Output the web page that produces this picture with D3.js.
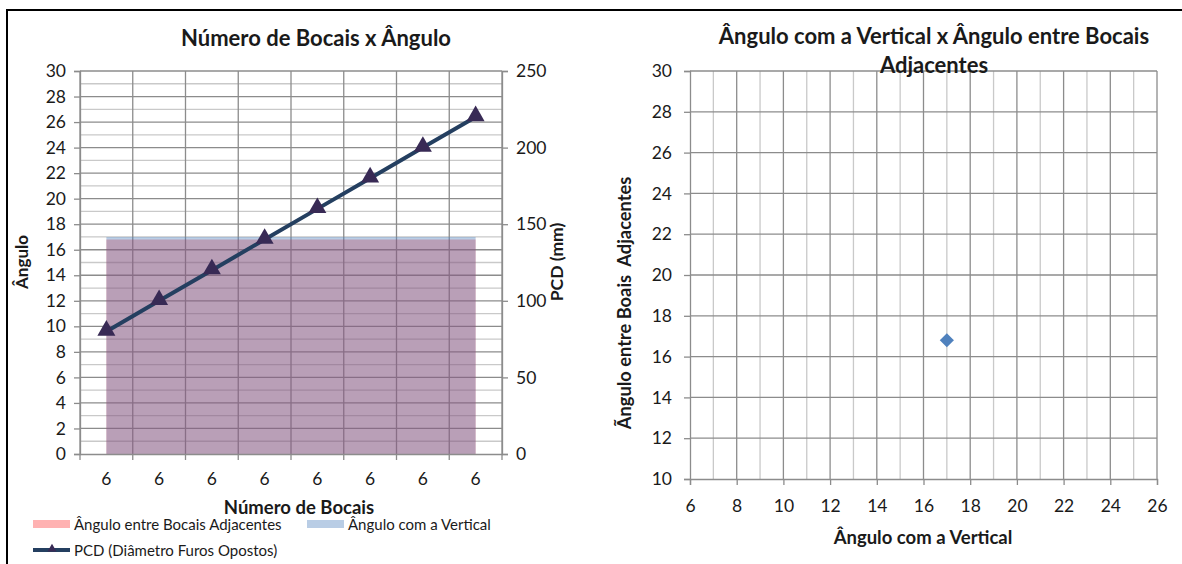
<!DOCTYPE html>
<html>
<head>
<meta charset="utf-8">
<script src="https://cdn.jsdelivr.net/npm/d3@7/dist/d3.min.js"></script>
<style>
  html, body { margin: 0; padding: 0; background: #fff; }
  svg { display: block; font-family: Lato, "Open Sans", sans-serif; }
  text { fill: #1a1a1a; }
</style>
</head>
<body>
<svg id="chart" width="1182" height="564"></svg>
<script>
// ---- data ----
const categories = ["6", "6", "6", "6", "6", "6", "6", "6"];
const adjacentAngle = [16.8, 16.8, 16.8, 16.8, 16.8, 16.8, 16.8, 16.8];
const verticalAngle = [17, 17, 17, 17, 17, 17, 17, 17];
const pcd = [80, 100, 120, 140, 160, 180, 200, 220];
const angleTicks = d3.range(0, 31, 2);
const pcdTicks = [0, 50, 100, 150, 200, 250];

const scatterX = [17];
const scatterY = [16.8];
const scatterXTicks = d3.range(6, 27, 2);
const scatterYTicks = d3.range(10, 31, 2);

const svg = d3.select("#chart");
const majorGrid = "#8c8c8c";
const minorGrid = "#c9c9c9";
const axisColor = "#8c8c8c";
const tickFont = 17.5;

// outer frame
svg.append("path").attr("d", "M7,564 V10 H1182")
  .attr("fill", "none").attr("stroke", "#000").attr("stroke-width", 2);

// ================= left chart =================
{
  const L = 80, R = 502, T = 71, B = 454;
  const x = d3.scaleBand().domain(d3.range(categories.length)).range([L, R]);
  const y = d3.scaleLinear().domain([0, 30]).range([B, T]);
  const y2 = d3.scaleLinear().domain([0, 250]).range([B, T]);
  const cx = i => x(i) + x.bandwidth() / 2;
  const g = svg.append("g");

  // minor horizontal grid
  g.selectAll(".hmin").data(d3.range(1, 30, 2)).join("line")
    .attr("x1", L).attr("x2", R).attr("y1", d => y(d)).attr("y2", d => y(d))
    .attr("stroke", minorGrid).attr("stroke-width", 1.3);
  // major horizontal grid
  g.selectAll(".hmaj").data(angleTicks.slice(1)).join("line")
    .attr("x1", L).attr("x2", R).attr("y1", d => y(d)).attr("y2", d => y(d))
    .attr("stroke", majorGrid).attr("stroke-width", 1.3);
  // vertical grid at category boundaries
  const bounds = d3.range(categories.length + 1).map(i => i < categories.length ? x(i) : R);
  g.selectAll(".vmaj").data(bounds).join("line")
    .attr("x1", d => d).attr("x2", d => d).attr("y1", T).attr("y2", B)
    .attr("stroke", majorGrid).attr("stroke-width", 1.3);

  // areas
  const area = d3.area().x((d, i) => cx(i)).y0(y(0)).y1(d => y(d));
  g.append("path").datum(adjacentAngle).attr("d", area)
    .attr("fill", "#ff0000").attr("fill-opacity", 0.3);
  g.append("path").datum(verticalAngle).attr("d", area)
    .attr("fill", "#4f81bd").attr("fill-opacity", 0.4);

  // axes
  const yAxis = d3.axisLeft(y).tickValues(angleTicks).tickSize(6).tickPadding(8);
  const ax1 = g.append("g").attr("transform", `translate(${L},0)`).call(yAxis);
  const y2Axis = d3.axisRight(y2).tickValues(pcdTicks).tickSize(6).tickPadding(8);
  const ax2 = g.append("g").attr("transform", `translate(${R},0)`).call(y2Axis);
  const xAxis = d3.axisBottom(x).tickFormat(i => categories[i]).tickSize(0).tickPadding(19);
  const ax3 = g.append("g").attr("transform", `translate(0,${B})`).call(xAxis);
  g.selectAll(".xtick").data(bounds).join("line")
    .attr("x1", d => d).attr("x2", d => d).attr("y1", B).attr("y2", B + 6)
    .attr("stroke", axisColor).attr("stroke-width", 1.3);
  [ax1, ax2, ax3].forEach(a => {
    a.select(".domain").attr("stroke", axisColor).attr("stroke-width", 1.3);
    a.selectAll(".tick line").attr("stroke", axisColor).attr("stroke-width", 1.3);
    a.selectAll(".tick text").attr("font-size", tickFont).attr("fill", "#1a1a1a")
      .style("font-family", "Lato, sans-serif");
  });

  // PCD line + triangle markers
  const line = d3.line().x((d, i) => cx(i)).y(d => y2(d));
  g.append("path").datum(pcd).attr("d", line)
    .attr("fill", "none").attr("stroke", "#243f60").attr("stroke-width", 4);
  const tri = d3.symbol().type(d3.symbolTriangle).size(140);
  g.selectAll(".mk").data(pcd).join("path")
    .attr("d", tri).attr("transform", (d, i) => `translate(${cx(i)},${y2(d) - 1})`)
    .attr("fill", "#382a55");

  // titles
  g.append("text").attr("x", 316).attr("y", 46).attr("text-anchor", "middle")
    .attr("font-size", 22).attr("font-weight", "bold").text("Número de Bocais x Ângulo");
  g.append("text").attr("x", 299).attr("y", 514).attr("text-anchor", "middle")
    .attr("font-size", 18.5).attr("font-weight", "bold").text("Número de Bocais");
  g.append("text").attr("transform", "translate(28,262) rotate(-90)").attr("text-anchor", "middle")
    .attr("font-size", 17).attr("font-weight", "bold").text("Ângulo");
  g.append("text").attr("transform", "translate(563,262) rotate(-90)").attr("text-anchor", "middle")
    .attr("font-size", 17.5).attr("font-weight", "bold").text("PCD (mm)");

  // legend
  const lg = g.append("g");
  lg.append("rect").attr("x", 33).attr("y", 520).attr("width", 37).attr("height", 8)
    .attr("fill", "#ff0000").attr("fill-opacity", 0.3);
  lg.append("text").attr("x", 74).attr("y", 529.5).attr("font-size", 15).text("Ângulo entre Bocais Adjacentes");
  lg.append("rect").attr("x", 307).attr("y", 520).attr("width", 37).attr("height", 8)
    .attr("fill", "#4f81bd").attr("fill-opacity", 0.4);
  lg.append("text").attr("x", 348).attr("y", 529.5).attr("font-size", 15).text("Ângulo com a Vertical");
  lg.append("line").attr("x1", 33).attr("x2", 70).attr("y1", 550).attr("y2", 550)
    .attr("stroke", "#243f60").attr("stroke-width", 4);
  lg.append("path").attr("d", d3.symbol().type(d3.symbolTriangle).size(35))
    .attr("transform", "translate(52,549)").attr("fill", "#382a55");
  lg.append("text").attr("x", 74).attr("y", 555.5).attr("font-size", 15).text("PCD (Diâmetro Furos Opostos)");
}

// ================= right chart =================
{
  const L = 690, R = 1157, T = 71, B = 479;
  const x = d3.scaleLinear().domain([6, 26]).range([L, R]);
  const y = d3.scaleLinear().domain([10, 30]).range([B, T]);
  const g = svg.append("g");

  // vertical minor/major grid
  g.selectAll(".vmin").data(d3.range(7, 26, 2)).join("line")
    .attr("x1", d => x(d)).attr("x2", d => x(d)).attr("y1", T).attr("y2", B)
    .attr("stroke", minorGrid).attr("stroke-width", 1.3);
  g.selectAll(".vmaj").data(scatterXTicks.slice(1)).join("line")
    .attr("x1", d => x(d)).attr("x2", d => x(d)).attr("y1", T).attr("y2", B)
    .attr("stroke", majorGrid).attr("stroke-width", 1.3);
  g.selectAll(".hmaj").data(scatterYTicks.slice(1)).join("line")
    .attr("x1", L).attr("x2", R).attr("y1", d => y(d)).attr("y2", d => y(d))
    .attr("stroke", majorGrid).attr("stroke-width", 1.3);

  const ax1 = g.append("g").attr("transform", `translate(${L},0)`)
    .call(d3.axisLeft(y).tickValues(scatterYTicks).tickSize(6).tickPadding(12));
  const ax2 = g.append("g").attr("transform", `translate(0,${B})`)
    .call(d3.axisBottom(x).tickValues(scatterXTicks).tickSize(6).tickPadding(15));
  [ax1, ax2].forEach(a => {
    a.select(".domain").attr("stroke", axisColor).attr("stroke-width", 1.3);
    a.selectAll(".tick line").attr("stroke", axisColor).attr("stroke-width", 1.3);
    a.selectAll(".tick text").attr("font-size", tickFont).attr("fill", "#1a1a1a")
      .style("font-family", "Lato, sans-serif");
  });

  // point (diamond marker)
  g.selectAll(".pt").data(scatterX).join("path")
    .attr("d", d3.symbol().type(d3.symbolSquare).size(100))
    .attr("transform", (d, i) => `translate(${x(d)},${y(scatterY[i])}) rotate(45)`)
    .attr("fill", "#4f81bd");

  // titles
  g.append("text").attr("x", 934).attr("y", 44).attr("text-anchor", "middle")
    .attr("font-size", 22).attr("font-weight", "bold").text("Ângulo com a Vertical x Ângulo entre Bocais");
  g.append("text").attr("x", 934).attr("y", 73).attr("text-anchor", "middle")
    .attr("font-size", 22).attr("font-weight", "bold").text("Adjacentes");
  g.append("text").attr("x", 923).attr("y", 544).attr("text-anchor", "middle")
    .attr("font-size", 18.5).attr("font-weight", "bold").text("Ângulo com a Vertical");
  g.append("text").attr("transform", "translate(631,303) rotate(-90)").attr("text-anchor", "middle")
    .attr("font-size", 18.3).attr("font-weight", "bold").style("white-space", "pre")
    .text("Ãngulo entre Boais  Adjacentes");
}
</script>
</body>
</html>
